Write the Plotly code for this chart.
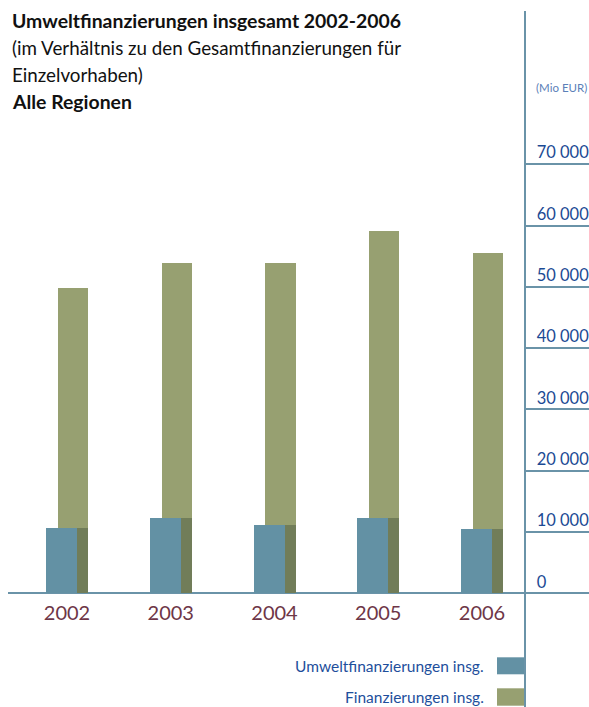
import plotly.graph_objects as go

# ---- data ----
years = ["2002", "2003", "2004", "2005", "2006"]
finanzierungen = [49750, 53900, 53900, 59100, 55500]   # Finanzierungen insg. (Mio EUR)
umwelt = [10650, 12330, 11140, 12330, 10490]            # Umweltfinanzierungen insg. (Mio EUR)
tick_values = [0, 10000, 20000, 30000, 40000, 50000, 60000, 70000]
tick_labels = ["0", "10 000", "20 000", "30 000", "40 000", "50 000", "60 000", "70 000"]

title_lines = [
    ("<b>Umweltfinanzierungen insgesamt 2002-2006</b>", 19.4),
    ("(im Verhältnis zu den Gesamtfinanzierungen für", 18.8),
    ("Einzelvorhaben)", 18.8),
    ("<b>Alle Regionen</b>", 19.4),
]
legend_names = ["Umweltfinanzierungen insg.", "Finanzierungen insg."]

# ---- style ----
W, H = 589, 707
FONT = "Lato"
BLUE = "#6391a4"
GREEN = "#97a071"
DARK_GREEN = "#717d59"
AXIS = "#6a93a8"
TICK_TXT = "#1b4a94"
YEAR_TXT = "#6e3647"
LEG_TXT = "#1e4f9c"

base_px = 593.3
px_per_unit = 61.3 / 10000
top_px = 11
y_lo = -(H - base_px) / px_per_unit
y_hi = (base_px - top_px) / px_per_unit
ydom = [0, 1 - top_px / H]

x_left, x_axis = 8, 526
cat_px = 103.75
first_center = 67
x_lo = -(first_center - x_left) / cat_px
x_hi = x_lo + (x_axis - x_left) / cat_px

fig = go.Figure()
fig.add_trace(go.Bar(x=years, y=finanzierungen, marker_color=GREEN, width=0.29,
                     offset=-0.087, marker_line_width=0, name=legend_names[1], showlegend=False))
fig.add_trace(go.Bar(x=years, y=umwelt, marker_color=DARK_GREEN, width=0.29,
                     offset=-0.087, marker_line_width=0, showlegend=False, hoverinfo="skip"))
fig.add_trace(go.Bar(x=years, y=umwelt, marker_color=BLUE, width=0.299,
                     offset=-0.202, marker_line_width=0, name=legend_names[0], showlegend=False))
# helper trace for right subplot (axis with tick lines)
fig.add_trace(go.Scatter(x=[0], y=[0], xaxis="x2", yaxis="y2", mode="markers",
                         marker_opacity=0, showlegend=False, hoverinfo="skip"))

fig.update_layout(
    width=W, height=H, autosize=False,
    margin=dict(l=0, r=0, t=0, b=0),
    paper_bgcolor="white", plot_bgcolor="rgba(0,0,0,0)",
    barmode="overlay", bargap=0,
    font=dict(family=FONT),
    xaxis=dict(domain=[x_left / W, x_axis / W], range=[x_lo, x_hi], type="category",
               anchor="free", position=(H - base_px) / H,
               showline=False, showgrid=False, zeroline=False, ticks="",
               ticklabelstandoff=6,
               tickfont=dict(size=20, color=YEAR_TXT, family=FONT)),
    yaxis=dict(domain=ydom, range=[y_lo, y_hi], showgrid=False, showticklabels=False,
               zeroline=True, zerolinecolor=AXIS, zerolinewidth=2, showline=False),
    xaxis2=dict(domain=[x_axis / W, 1], range=[0, 1], anchor="y2", visible=False),
    yaxis2=dict(domain=ydom, range=[y_lo, y_hi], anchor="x2", side="left",
                showline=True, linecolor=AXIS, linewidth=2,
                showgrid=True, gridcolor=AXIS, gridwidth=1.5,
                zeroline=True, zerolinecolor=AXIS, zerolinewidth=2,
                tickvals=tick_values, ticktext=tick_labels,
                ticklabelposition="inside top", ticks="",
                ticklabelstandoff=10, ticklabelshift=0,
                tickfont=dict(size=16.5, color=TICK_TXT, family=FONT)),
)

# title
title_y = [7, 34, 61, 88]
for (txt, fs), ty in zip(title_lines, title_y):
    fig.add_annotation(text=txt, xref="paper", yref="paper", x=10 / W, y=1 - ty / H,
                       xanchor="left", yanchor="top", showarrow=False,
                       font=dict(size=fs, color="#111111", family=FONT))

fig.add_annotation(text="(Mio EUR)", xref="paper", yref="paper", x=534 / W, y=1 - 87 / H,
                   xanchor="left", yanchor="middle", showarrow=False,
                   font=dict(size=11.5, color="#5b80b8", family=FONT))

# legend (custom)
leg = [(legend_names[0], BLUE, 657.3, 674.3), (legend_names[1], GREEN, 688.3, 705.7)]
for name, col, y0, y1 in leg:
    fig.add_shape(type="rect", xref="paper", yref="paper", x0=497 / W, x1=526 / W,
                  y0=1 - y1 / H, y1=1 - y0 / H, fillcolor=col, line_width=0, layer="below")
    fig.add_annotation(text=name, xref="paper", yref="paper", x=486 / W, y=1 - (y0 + y1) / 2 / H,
                       xanchor="right", yanchor="middle", showarrow=False,
                       font=dict(size=15.5, color=LEG_TXT, family=FONT))

fig.write_html("out.html")
